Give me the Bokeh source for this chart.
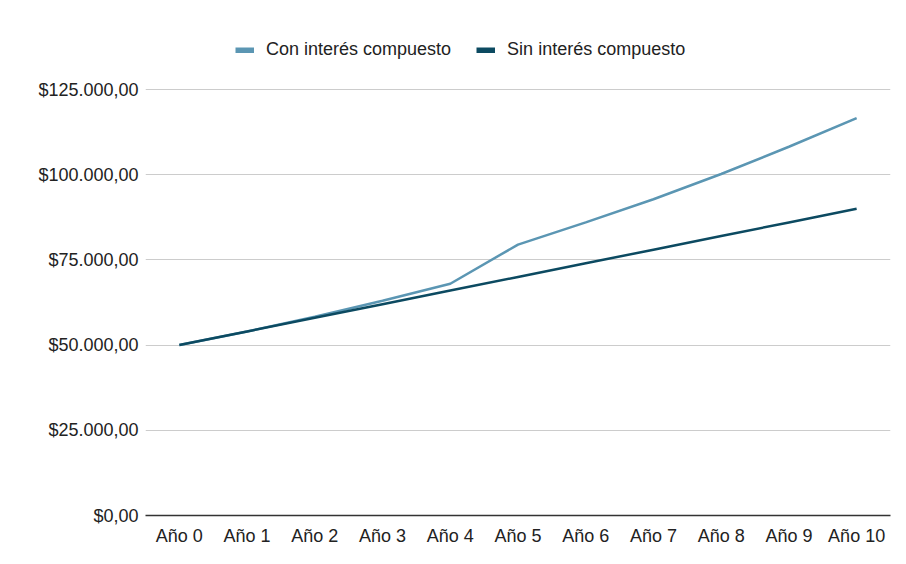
from bokeh.plotting import figure
from bokeh.models import Range1d, FactorRange, FixedTicker, Legend, LegendItem
from bokeh.embed import file_html
from bokeh.resources import INLINE

years = ["Año 0", "Año 1", "Año 2", "Año 3", "Año 4", "Año 5",
         "Año 6", "Año 7", "Año 8", "Año 9", "Año 10"]
con_interes = [50000, 54000, 58300, 63000, 68000, 79500,
               86000, 92800, 100200, 108200, 116600]
sin_interes = [50000, 54000, 58000, 62000, 66000, 70000,
               74000, 78000, 82000, 86000, 90000]
y_ticks = [0, 25000, 50000, 75000, 100000, 125000]
y_tick_labels = ["$0,00", "$25.000,00", "$50.000,00", "$75.000,00",
                 "$100.000,00", "$125.000,00"]
series_names = ["Con interés compuesto", "Sin interés compuesto"]
colors = ["#5b96b3", "#0c4a61"]

FONT = "Liberation Sans"

# frame extends above the top gridline so the legend can sit inside it
FRAME_TOP, GRID_TOP, FRAME_BOTTOM = 29, 89, 515
y_end = y_ticks[-1] * (FRAME_BOTTOM - FRAME_TOP) / (FRAME_BOTTOM - GRID_TOP)

p = figure(width=898, height=556, output_backend="svg", toolbar_location=None,
           x_range=FactorRange(*years, range_padding=0),
           y_range=Range1d(0, y_end),
           min_border_left=145, min_border_right=8,
           min_border_top=FRAME_TOP, min_border_bottom=556 - FRAME_BOTTOM)
p.outline_line_color = None
p.background_fill_color = "white"
p.border_fill_color = "white"

p.line(x=years, y=con_interes, line_color=colors[0], line_width=2.5)
p.line(x=years, y=sin_interes, line_color=colors[1], line_width=2.5)

# legend swatches (single NaN point: nothing drawn in the plot itself)
nan = float("nan")
r1 = p.line(x=[years[0]], y=[nan], line_color=colors[0], line_width=6)
r2 = p.line(x=[years[0]], y=[nan], line_color=colors[1], line_width=6)
legend = Legend(items=[LegendItem(label=series_names[0], renderers=[r1]),
                       LegendItem(label=series_names[1], renderers=[r2])],
                orientation="horizontal", location=(90, 455),
                glyph_width=19, glyph_height=6, label_standoff=12, spacing=25,
                padding=0, margin=0, border_line_color=None,
                background_fill_alpha=0,
                label_text_font=FONT, label_text_font_size="18px",
                label_text_color="#222222")
p.add_layout(legend, "center")

p.yaxis.ticker = FixedTicker(ticks=y_ticks)
p.yaxis.major_label_overrides = dict(zip(y_ticks, y_tick_labels))
p.yaxis.axis_line_color = None
p.yaxis.major_tick_line_color = None
p.yaxis.minor_tick_line_color = None
p.yaxis.major_tick_out = 0
p.yaxis.major_tick_in = 0
p.yaxis.major_label_standoff = 7
p.yaxis.major_label_text_font = FONT
p.yaxis.major_label_text_font_size = "18px"
p.yaxis.major_label_text_color = "#222222"

p.xaxis.axis_line_color = "#333333"
p.xaxis.axis_line_width = 1.5
p.xaxis.major_tick_line_color = None
p.xaxis.minor_tick_line_color = None
p.xaxis.major_tick_out = 0
p.xaxis.major_tick_in = 0
p.xaxis.major_label_standoff = 10
p.xaxis.major_label_text_font = FONT
p.xaxis.major_label_text_font_size = "18px"
p.xaxis.major_label_text_color = "#222222"

p.xgrid.grid_line_color = None
p.ygrid.grid_line_color = "#cccccc"
p.ygrid.grid_line_width = 1

open("out.html", "w").write(file_html(p, INLINE))
